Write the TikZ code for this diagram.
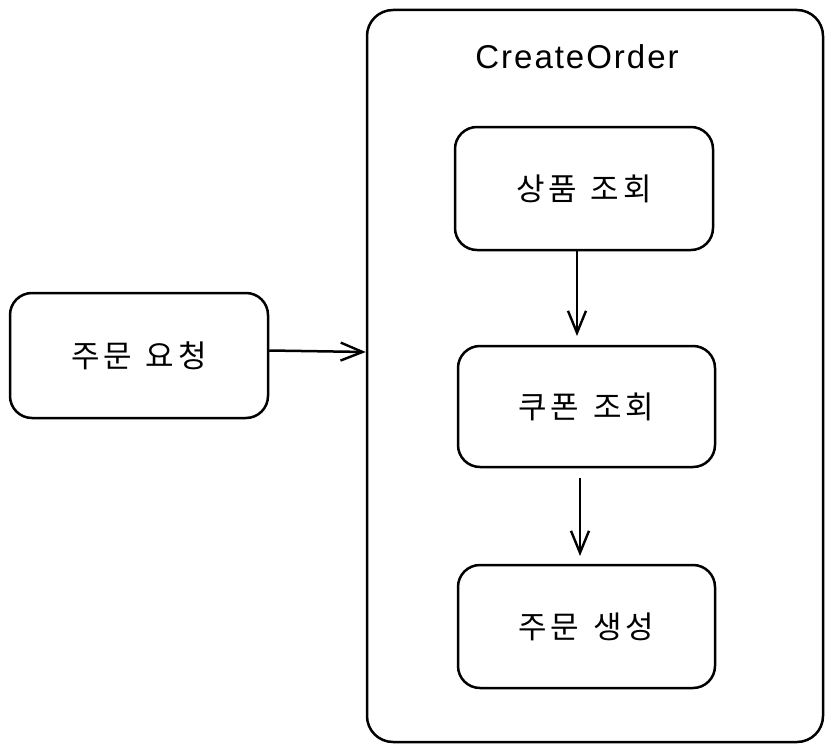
\documentclass[tikz,border=0pt]{standalone}
\usepackage{fontspec}
\setmainfont{Liberation Sans}
\newfontfamily\krfont[LetterSpace=12]{Noto Sans CJK KR}
\newfontfamily\titlefont[LetterSpace=6]{Liberation Sans}
\usetikzlibrary{arrows.meta}
\begin{document}
\begin{tikzpicture}[x=1pt,y=-1pt,
  box/.style={draw, line width=2.5pt, rounded corners=22pt, inner sep=0pt, font=\krfont\fontsize{31}{36}\selectfont},
  conn/.style={line width=2.5pt, -{Straight Barb[length=22pt,width=18pt,line width=2.4pt]}}]
\useasboundingbox (0,0) rectangle (833,752);
\node[draw, line width=2.5pt, rounded corners=26pt, minimum width=456pt, minimum height=732pt] (cont) at (595,376) {};
\node[font=\titlefont\fontsize{33}{38}\selectfont] (title) at (577,57) {CreateOrder};
\node[box, minimum width=258pt, minimum height=123pt] (a) at (584,188.5) {상품\hspace{14pt}조회};
\node[box, minimum width=257pt, minimum height=121pt] (b) at (586.5,406.5) {쿠폰\hspace{14pt}조회};
\node[box, minimum width=257pt, minimum height=123pt] (c) at (586.5,626.5) {주문\hspace{14pt}생성};
\node[box, minimum width=258pt, minimum height=125pt] (req) at (139,355.5) {주문\hspace{14pt}요청};
\draw[conn] (req.east) ++(0,-5) -- (cont.west |- 0,352);
\draw[conn] (577,250) -- (577,336);
\draw[conn] (580,478) -- (580,556);
\end{tikzpicture}
\end{document}
